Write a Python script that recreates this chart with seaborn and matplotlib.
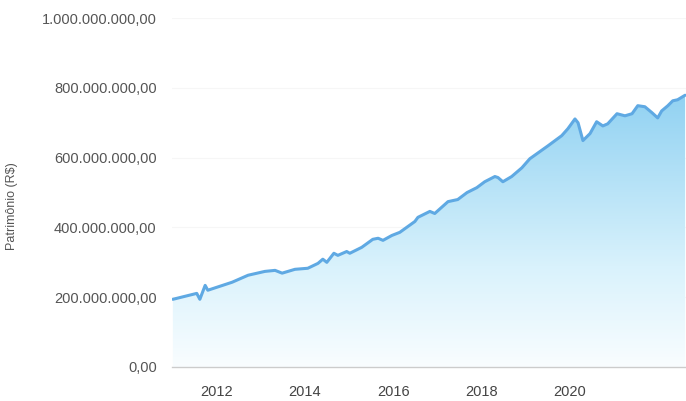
import numpy as np
import pandas as pd
import matplotlib
matplotlib.use("Agg")
import matplotlib.pyplot as plt
import matplotlib.ticker as mticker
from matplotlib.colors import LinearSegmentedColormap
import seaborn as sns

# data: decimal year, net worth in millions of R$
years = [2011.02, 2011.56, 2011.63, 2011.75, 2011.81, 2012.36, 2012.72, 2013.10,
         2013.33, 2013.49, 2013.78, 2014.07, 2014.30, 2014.41, 2014.50, 2014.66,
         2014.75, 2014.95, 2015.02, 2015.29, 2015.54, 2015.66, 2015.77, 2015.97,
         2016.15, 2016.49, 2016.56, 2016.83, 2016.94, 2017.24, 2017.46, 2017.67,
         2017.89, 2018.07, 2018.30, 2018.37, 2018.48, 2018.68, 2018.91, 2019.09,
         2019.50, 2019.81, 2019.95, 2020.11, 2020.18, 2020.29, 2020.45, 2020.60,
         2020.74, 2020.85, 2021.06, 2021.24, 2021.40, 2021.53, 2021.69, 2021.85,
         2021.98, 2022.07, 2022.21, 2022.32, 2022.43, 2022.60]
patrimonio_mi = [194, 211, 194, 234, 220, 243, 263, 274,
                 277, 269, 280, 283, 297, 309, 300, 326,
                 320, 331, 326, 343, 366, 369, 363, 377,
                 386, 417, 429, 446, 440, 474, 480, 500,
                 514, 531, 546, 543, 531, 546, 571, 597,
                 634, 663, 683, 711, 700, 649, 669, 703,
                 691, 697, 726, 720, 726, 749, 746, 729,
                 714, 734, 749, 763, 766, 779]
year_ticks = [2012, 2014, 2016, 2018, 2020]
value_ticks = [0, 200e6, 400e6, 600e6, 800e6, 1000e6]


def br_format(v, pos=None):
    s = f"{v:,.2f}"
    return s.replace(",", "X").replace(".", ",").replace("X", ".")


df = pd.DataFrame({"ano": years, "patrimonio": np.array(patrimonio_mi) * 1e6})

sns.set_style("white")
plt.rcParams["font.family"] = ["Liberation Sans", "DejaVu Sans"]

fig = plt.figure(figsize=(6.86, 4.01), dpi=100)
ax = fig.add_axes([0.2507, 0.0848, 0.7493, 0.870])

x0, x1 = 2011.0, 2022.62
ax.set_xlim(x0, x1)
ax.set_ylim(0, 1e9)

# gradient fill under the curve
poly = ax.fill_between(df["ano"], df["patrimonio"], 0, color="none", lw=0)
cmap = LinearSegmentedColormap.from_list(
    "fade", [(0.0, "#f9fdff"), (0.35, "#d9f2fc"), (1.0, "#8bcff1")])
grad = np.linspace(0, 1, 256).reshape(-1, 1)
img = ax.imshow(grad, cmap=cmap, aspect="auto", origin="lower",
                extent=[x0, x1, 0, 8.2e8], zorder=1)
img.set_clip_path(poly.get_paths()[0], transform=ax.transData)

sns.lineplot(data=df, x="ano", y="patrimonio", ax=ax, color="#5fa9e3",
             linewidth=2.2, zorder=3)

ax.set_xticks(year_ticks)
ax.set_xticklabels([str(y) for y in year_ticks])
ax.set_yticks(value_ticks)
ax.yaxis.set_major_formatter(mticker.FuncFormatter(br_format))
ax.tick_params(axis="y", length=0, pad=11, labelsize=10.5, labelcolor="#555555")
ax.tick_params(axis="x", length=5, width=0.8, color="#cccccc", pad=8,
               labelsize=10.5, labelcolor="#444444")
ax.grid(axis="y", color="#f6f6f6", lw=0.8)
ax.set_axisbelow(True)

for side in ["top", "right", "left"]:
    ax.spines[side].set_visible(False)
ax.spines["bottom"].set_color("#cccccc")
ax.spines["bottom"].set_linewidth(1)

ax.set_xlabel("")
ax.set_ylabel("Patrimônio (R$)", fontsize=9, color="#555555")
ax.yaxis.set_label_coords(-0.30, 0.46)

fig.savefig("out.png", dpi=100)
